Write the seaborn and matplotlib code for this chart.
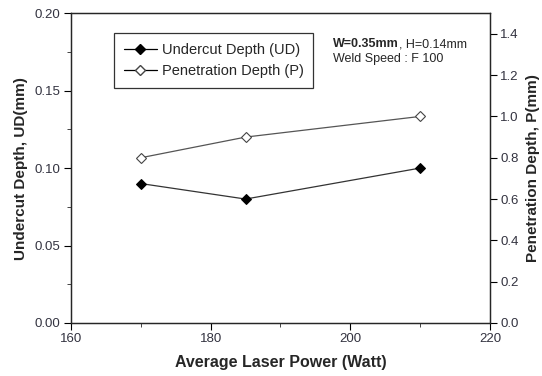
"""Undercut and penetration depth vs. average laser power."""

import matplotlib
matplotlib.use("Agg")
import matplotlib.pyplot as plt
import pandas as pd
import seaborn as sns
from matplotlib.lines import Line2D
from matplotlib.ticker import FormatStrFormatter, MultipleLocator

power = [170, 185, 210]
undercut_depth = [0.09, 0.08, 0.10]
penetration_depth = [0.8, 0.9, 1.0]

df = pd.DataFrame({"power": power, "ud": undercut_depth, "p": penetration_depth})

sns.set_style("ticks")
plt.rcParams["font.family"] = ["Liberation Sans", "DejaVu Sans"]
plt.rcParams.update({
    "xtick.direction": "out",
    "ytick.direction": "out",
    "xtick.major.size": 5,
    "ytick.major.size": 5,
    "xtick.minor.size": 3,
    "ytick.minor.size": 3,
    "axes.linewidth": 0.9,
})

fig = plt.figure(figsize=(5.42, 3.76), dpi=100)
ax = fig.add_axes([0.131, 0.141, 0.773, 0.824])
ax2 = ax.twinx()

sns.lineplot(data=df, x="power", y="ud", ax=ax, color="#333333", linewidth=0.9,
             marker="D", markersize=5.5, markerfacecolor="black",
             markeredgecolor="black")
sns.lineplot(data=df, x="power", y="p", ax=ax2, color="#555555", linewidth=0.9,
             marker="D", markersize=5.5, markerfacecolor="white",
             markeredgecolor="#444444", markeredgewidth=0.8)

ax.set_xlim(160, 220)
ax.set_ylim(0, 0.20)
ax2.set_ylim(0, 1.5)
ax.xaxis.set_major_locator(MultipleLocator(20))
ax.xaxis.set_minor_locator(MultipleLocator(10))
ax.yaxis.set_major_locator(MultipleLocator(0.05))
ax.yaxis.set_minor_locator(MultipleLocator(0.025))
ax2.yaxis.set_major_locator(MultipleLocator(0.2))
ax.yaxis.set_major_formatter(FormatStrFormatter("%.2f"))
ax2.yaxis.set_major_formatter(FormatStrFormatter("%.1f"))

tick_color = "#333340"
ax.tick_params(axis="both", labelsize=9.5, colors="black", labelcolor=tick_color, pad=2.5)
ax2.tick_params(axis="y", labelsize=9.5, colors="black", labelcolor=tick_color, pad=2.5)

ax.set_xlabel("Average Laser Power (Watt)", fontsize=11.5, fontweight="bold", labelpad=7)
ax.set_ylabel("Undercut Depth, UD(mm)", fontsize=11, fontweight="bold", labelpad=5)
ax2.set_ylabel("Penetration Depth, P(mm)", fontsize=11, fontweight="bold", labelpad=5)

handles = [
    Line2D([], [], color="black", linewidth=0.9, marker="D", markersize=5.5,
           markerfacecolor="black", markeredgecolor="black"),
    Line2D([], [], color="black", linewidth=0.9, marker="D", markersize=5.5,
           markerfacecolor="white", markeredgecolor="#444444"),
]
leg = ax.legend(handles, ["Undercut Depth (UD)", "Penetration Depth (P)"],
                loc="upper left", bbox_to_anchor=(0.103, 0.935), fontsize=10.5,
                frameon=True, fancybox=False, edgecolor="black",
                handlelength=2.3, handletextpad=0.3, borderpad=0.65,
                labelspacing=0.5, borderaxespad=0)
leg.get_frame().set_linewidth(0.9)

w_text = ax.text(0.625, 0.9, "W=0.35mm", transform=ax.transAxes, fontsize=9,
                 fontweight="bold", ha="left", va="center")
ax.annotate(", H=0.14mm", xy=(1, 0.5), xycoords=w_text, fontsize=9,
            ha="left", va="center")
ax.text(0.625, 0.852, "Weld Speed : F 100", transform=ax.transAxes, fontsize=9,
        ha="left", va="center")

ax2.set_zorder(ax.get_zorder() + 1)
ax.set_zorder(ax2.get_zorder() + 1)
ax.patch.set_visible(False)

fig.savefig("out.png", dpi=100)
